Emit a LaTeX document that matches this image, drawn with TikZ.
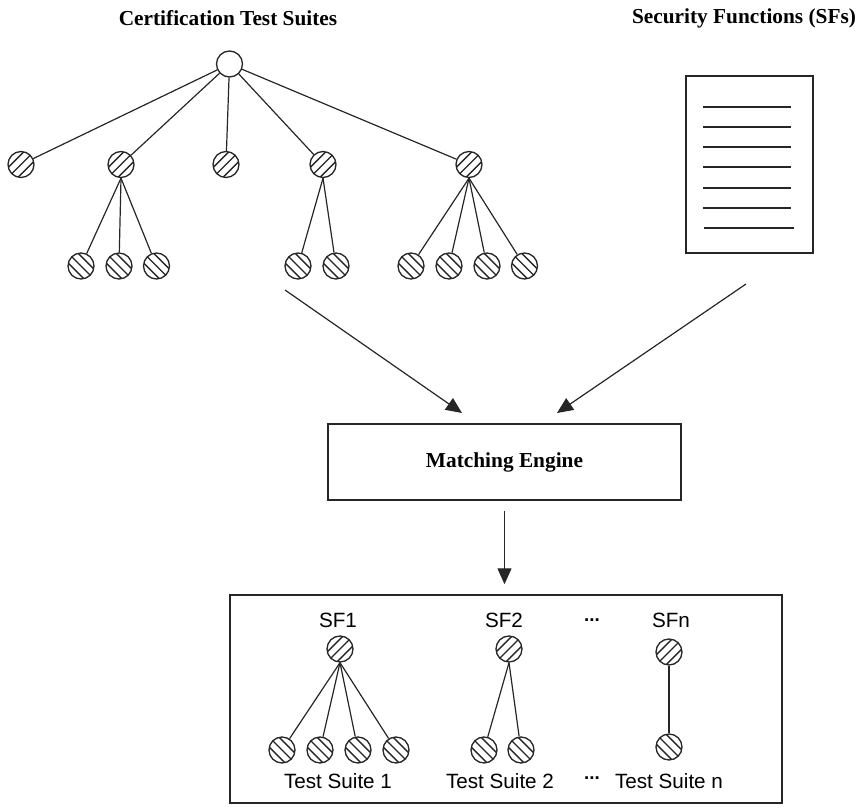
\documentclass[tikz,border=0pt]{standalone}
\usepackage{fontspec}
\setmainfont{Liberation Serif}
\setsansfont{Liberation Sans}
\usetikzlibrary{arrows.meta}

\tikzset{
  ball/.style={circle, draw=black!85, line width=1pt, minimum size=19.5pt, inner sep=0pt, fill=white},
  hatchline/.style={line width=1pt, draw=black!85},
  % hatching rising to the right
  sfball/.style={ball, path picture={
      \foreach \p in {-3.71,0,3.71}
        \draw[hatchline]
          ([xshift={\p-7.78}, yshift={0-(\p)-7.78}]path picture bounding box.center) --
          ([xshift={\p+7.78}, yshift={0-(\p)+7.78}]path picture bounding box.center);}},
  % hatching falling to the right
  tsball/.style={ball, path picture={
      \foreach \p in {-3.71,0,3.71}
        \draw[hatchline]
          ([xshift={\p-7.78}, yshift={\p+7.78}]path picture bounding box.center) --
          ([xshift={\p+7.78}, yshift={\p-7.78}]path picture bounding box.center);}},
  branch/.style={line width=0.9pt, draw=black!85},
  flow/.style={line width=0.9pt, draw=black!85, -{Triangle[length=12pt,width=10.5pt]}},
  frame/.style={draw=black!85, line width=1.1pt},
  heading/.style={font=\bfseries\fontsize{16}{19}\selectfont},
  caption/.style={font=\sffamily\fontsize{15.5}{18}\selectfont},
  dots/.style={font=\sffamily\bfseries\fontsize{14}{16}\selectfont},
}

\begin{document}
\begin{tikzpicture}[x=0.75pt, y=-0.75pt]
  \useasboundingbox (0,0) rectangle (857,808);

  % headings
  \node[heading] (hcts) at (228,18) {Certification Test Suites};
  \node[heading] (hsf) at (744,18) {Security Functions (SFs)};

  % certification test suite tree
  \node[ball] (root) at (229.5,64) {};
  \node[sfball] (s1) at (21,164.5) {};
  \node[sfball] (s2) at (121,164.5) {};
  \node[sfball] (s3) at (226,164.5) {};
  \node[sfball] (s4) at (323,164.5) {};
  \node[sfball] (s5) at (469,164.5) {};
  \node[tsball] (t21) at (81,266) {};
  \node[tsball] (t22) at (119,266) {};
  \node[tsball] (t23) at (156.5,266) {};
  \node[tsball] (t41) at (298,266) {};
  \node[tsball] (t42) at (336,266) {};
  \node[tsball] (t51) at (411,266) {};
  \node[tsball] (t52) at (449,266) {};
  \node[tsball] (t53) at (487,266) {};
  \node[tsball] (t54) at (524.5,266) {};
  \foreach \c in {s1,s2,s3,s4,s5} \draw[branch] (root) -- (\c);
  \foreach \c in {t21,t22,t23} \draw[branch] (s2.south) -- (\c);
  \foreach \c in {t41,t42} \draw[branch] (s4.south) -- (\c);
  \foreach \c in {t51,t52,t53,t54} \draw[branch] (s5.south) -- (\c);

  % security functions document
  \draw[frame] (686,76) rectangle (813,253);
  \foreach \y in {107,127,147,167,188,208} \draw[branch] (703,\y) -- (791,\y);
  \draw[branch] (704,228) -- (794,228);

  % matching engine
  \node[frame, minimum width=264.75pt, minimum height=57pt, heading] (engine) at (504.5,462) {Matching Engine};
  \coordinate (a1) at (285,290);
  \coordinate (a2) at (462,413);
  \coordinate (b1) at (746,284);
  \coordinate (b2) at (557,413);
  \draw[flow] (a1) -- (a2);
  \draw[flow] (b1) -- (b2);

  % result box
  \node[frame, minimum width=414pt, minimum height=156pt] (result) at (506,699) {};
  \draw[flow, shorten <=7.5pt, shorten >=7.5pt] (engine.south) -- (engine.south |- result.north);

  % SF1
  \node[caption] (l1) at (338,620) {SF1};
  \node[sfball] (f1) at (340,649) {};
  \node[tsball] (f11) at (282,750) {};
  \node[tsball] (f12) at (320,750) {};
  \node[tsball] (f13) at (358,750) {};
  \node[tsball] (f14) at (396,750) {};
  \foreach \c in {f11,f12,f13,f14} \draw[branch] (f1.south) -- (\c);
  \node[caption] (c1) at (338,781) {Test Suite 1};

  % SF2
  \node[caption] (l2) at (504,620) {SF2};
  \node[sfball] (f2) at (509,649) {};
  \node[tsball] (f21) at (484,750) {};
  \node[tsball] (f22) at (521,750) {};
  \foreach \c in {f21,f22} \draw[branch] (f2.south) -- (\c);
  \node[caption] (c2) at (500,781) {Test Suite 2};

  % SFn
  \node[dots] (d1) at (592,620) {...};
  \node[caption] (ln) at (671,620) {SFn};
  \node[sfball] (fn) at (669,652) {};
  \node[tsball] (fn1) at (669,747) {};
  \draw[branch] (fn) -- (fn1);
  \node[dots] (d2) at (592,778) {...};
  \node[caption] (cn) at (669,781) {Test Suite n};
\end{tikzpicture}
\end{document}
